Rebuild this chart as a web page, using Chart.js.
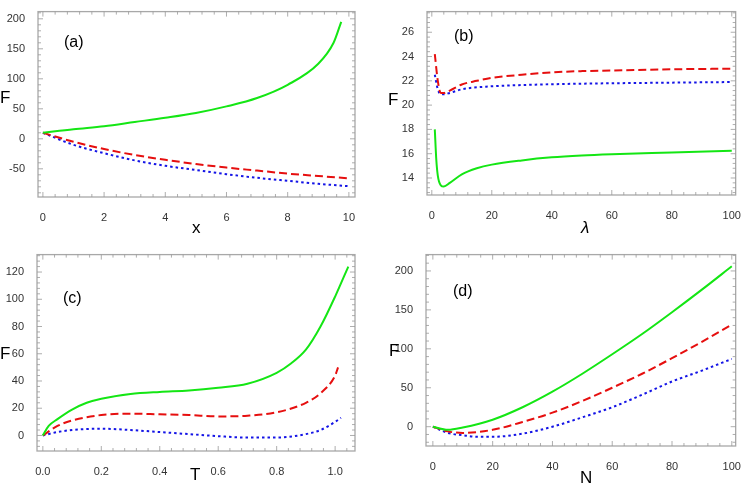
<!DOCTYPE html>
<html><head><meta charset="utf-8">
<script src="https://cdn.jsdelivr.net/npm/chart.js@4.4.1/dist/chart.umd.min.js"></script>
<style>
body{margin:0;background:#fff;width:747px;height:486px;position:relative;overflow:hidden;font-family:"Liberation Sans",Arial,sans-serif}
canvas{position:absolute}
.l{position:absolute;color:#000;font-size:17px;line-height:1}
.p{position:absolute;color:#000;font-size:16px;line-height:1}
</style></head><body>
<canvas id="ca" style="left:0;top:0;width:373px;height:243px"></canvas>
<canvas id="cb" style="left:373px;top:0;width:374px;height:243px"></canvas>
<canvas id="cc" style="left:0;top:243px;width:373px;height:243px"></canvas>
<canvas id="cd" style="left:373px;top:243px;width:374px;height:243px"></canvas>
<div class="p" style="left:64px;top:34px">(a)</div>
<div class="p" style="left:454px;top:28px">(b)</div>
<div class="p" style="left:63px;top:290px">(c)</div>
<div class="p" style="left:453px;top:283px">(d)</div>
<div class="l" style="left:0px;top:89px">F</div>
<div class="l" style="left:388px;top:91px">F</div>
<div class="l" style="left:0px;top:345px">F</div>
<div class="l" style="left:389px;top:342px">F</div>
<div class="l" style="left:192px;top:219px">x</div>
<div class="l" style="left:581px;top:219px;font-style:italic">λ</div>
<div class="l" style="left:190px;top:466px">T</div>
<div class="l" style="left:580px;top:469px">N</div>
<script>
// Panel (a)
const aX = [0,1,2,3,4,5,6,7,8,9,9.5,9.75];
const aGreen = [10,16,21,28,35,43,54,68,90,125,160,195];
const aX2 = [0,1,2,3,4,5,6,7,8,9,10];
const aRed = [10,-5,-17,-27,-35,-42,-48,-53,-58,-62,-66];
const aBlue = [10,-10,-24,-36,-45,-52,-59,-65,-70,-75,-79];
const aXTicks = [0,2,4,6,8,10];
const aYTicks = [-50,0,50,100,150,200];
// Panel (b)
const bXr = [1,2,3,4,6,10,15,20,30,40,50,60,80,100];
const bRed = [24.2,22,21,21.0,21.2,21.7,22.0,22.25,22.5,22.7,22.8,22.85,22.95,23.0];
const bXb = [1,2,3,4,6,10,20,30,40,60,80,100];
const bBlue = [22.5,21.3,20.9,20.9,21.0,21.3,21.55,21.65,21.72,21.8,21.85,21.9];
const bXg = [1,1.5,2,3,4,6,10,15,20,30,40,50,60,80,100];
const bGreen = [18,15.5,14.2,13.4,13.3,13.6,14.3,14.8,15.1,15.45,15.7,15.85,15.95,16.1,16.25];
const bXTicks = [0,20,40,60,80,100];
const bYTicks = [14,16,18,20,22,24,26];
// Panel (c)
const cXg = [0,0.02,0.05,0.1,0.15,0.2,0.3,0.4,0.5,0.6,0.7,0.8,0.85,0.9,0.95,1.0,1.045];
const cGreen = [0,7,12,19,24,27,30.5,32,33,35,38,46,53,63,80,102,124];
const cXr = [0,0.05,0.1,0.2,0.3,0.4,0.5,0.6,0.7,0.8,0.9,0.95,1.0,1.01];
const cRed = [0,7,11,15,16,15.5,15,14,14.5,17,24,31,44,50];
const cXb = [0,0.05,0.1,0.2,0.3,0.4,0.5,0.6,0.7,0.8,0.9,0.95,1.0,1.02];
const cBlue = [0,2.5,4,5,4,2.5,1,-0.5,-1.5,-1.5,1,4,10,13];
const cXTicks = [0,0.2,0.4,0.6,0.8,1.0];
const cYTicks = [0,20,40,60,80,100,120];
// Panel (d)
const dXg = [0,5,10,20,30,40,50,60,70,80,90,100];
const dGreen = [0,-4,-1,9,25,45,68,93,119,147,176,206];
const dXr = [0,5,10,20,30,40,50,60,70,80,90,100];
const dRed = [0,-6,-8,-4,6,18,33,50,68,88,109,131];
const dXb = [0,5,10,15,20,30,40,50,60,70,80,90,100];
const dBlue = [0,-8,-11,-13,-13,-9,0,12,25,41,58,72,87];
const dXTicks = [0,20,40,60,80,100];
const dYTicks = [0,50,100,150,200];

const GREEN='#14e614', RED='#e60f0f', BLUE='#1414e6';
const pts=(xs,ys)=>xs.map((x,i)=>({x,y:ys[i]}));
const frame={id:'frame',afterDraw(ch){
  const a=ch.chartArea,c=ch.ctx;c.save();c.strokeStyle='#a8a8a8';c.lineWidth=1.3;
  c.strokeRect(a.left,a.top,a.right-a.left,a.bottom-a.top);
  c.lineWidth=0.8;c.strokeStyle='#999';
  const sx=ch.scales.x,sy=ch.scales.y;
  const tx=sx.options.myTicks,ty=sy.options.myTicks;
  const dxm=(tx[1]-tx[0])/5,dym=(ty[1]-ty[0])/5;
  for(let v=tx[0]-5*dxm;v<=sx.max;v+=dxm){if(v<sx.min)continue;const p=sx.getPixelForValue(v);
    const major=Math.abs(((v-tx[0])/dxm)%5)<1e-6||Math.abs(((v-tx[0])/dxm)%5-5)<1e-6||Math.abs(((v-tx[0])/dxm)%5+5)<1e-6;const L=major?5:3;
    c.beginPath();c.moveTo(p,a.bottom);c.lineTo(p,a.bottom-L);c.moveTo(p,a.top);c.lineTo(p,a.top+L);c.stroke();}
  for(let v=ty[0]-5*dym;v<=sy.max;v+=dym){if(v<sy.min)continue;const p=sy.getPixelForValue(v);
    const r=Math.round((v-ty[0])/dym);const L=(r%5===0)?5:3;
    c.beginPath();c.moveTo(a.left,p);c.lineTo(a.left+L,p);c.moveTo(a.right,p);c.lineTo(a.right-L,p);c.stroke();}
  c.restore();}};
function make(id,ds,xr,yr,xt,yt,yw,xh,pad){
  const font={family:'"Liberation Sans", Arial, sans-serif',size:11};
  new Chart(document.getElementById(id),{type:'line',
    data:{datasets:ds.map(d=>({data:pts(d[0],d[1]),borderColor:d[2],borderWidth:2,borderDash:d[3],pointRadius:0,tension:0.4,cubicInterpolationMode:'monotone',fill:false}))},
    options:{responsive:false,animation:false,devicePixelRatio:1,
      layout:{padding:pad},
      plugins:{legend:{display:false},tooltip:{enabled:false}},
      scales:{
        x:{type:'linear',min:xr[0],max:xr[1],myTicks:xt,afterBuildTicks:s=>{s.ticks=xt.map(v=>({value:v}))},
          afterFit:s=>{s.height=xh},grid:{display:false},border:{display:false},
          ticks:{font,color:'#333',padding:6,maxRotation:0,autoSkip:false,callback:v=>xt[0]===0&&xt[1]<1?v.toFixed(1):v}},
        y:{type:'linear',min:yr[0],max:yr[1],myTicks:yt,afterBuildTicks:s=>{s.ticks=yt.map(v=>({value:v}))},
          afterFit:s=>{s.width=yw},grid:{display:false},border:{display:false},
          ticks:{font,color:'#333',padding:5,autoSkip:false}}}},
    plugins:[frame]});
}
function sz(id,w,h){const c=document.getElementById(id);c.width=w;c.height=h;}
sz('ca',373,243);sz('cb',374,243);sz('cc',373,243);sz('cd',374,243);
const DASH=[8,4],DOT=[2.5,3];
make('ca',[[aX,aGreen,GREEN,[]],[aX2,aRed,RED,DASH],[aX2,aBlue,BLUE,DOT]],[-0.16,10.2],[-97,212],aXTicks,aYTicks,38,46,{top:1,right:18,left:0,bottom:0});
make('cb',[[bXg,bGreen,GREEN,[]],[bXr,bRed,RED,DASH],[bXb,bBlue,BLUE,DOT]],[-1.6,101.3],[12.6,27.7],bXTicks,bYTicks,54,48,{top:1,right:4,left:0,bottom:0});
make('cc',[[cXg,cGreen,GREEN,[]],[cXr,cRed,RED,DASH],[cXb,cBlue,BLUE,DOT]],[-0.02,1.068],[-11.4,132.8],cXTicks,cYTicks,37,35,{top:5,right:18,left:0,bottom:0});
make('cd',[[dXg,dGreen,GREEN,[]],[dXr,dRed,RED,DASH],[dXb,dBlue,BLUE,DOT]],[-2.3,101.3],[-24.8,221],dXTicks,dYTicks,53,40,{top:5,right:3,left:0,bottom:0});
</script></body></html>
